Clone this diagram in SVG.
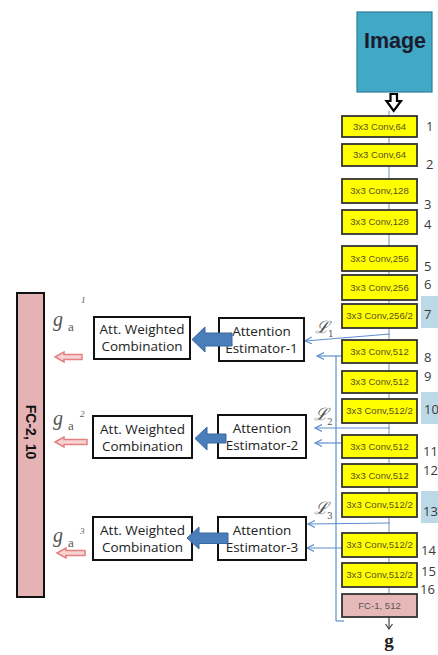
<svg xmlns="http://www.w3.org/2000/svg" width="438" height="655" viewBox="0 0 438 655">
<style>
.conv{fill:#FFFF00;stroke:#333;stroke-width:1.8}
.ct{font-family:"Liberation Sans",Arial,sans-serif;font-size:9.6px;fill:#5a5020;text-anchor:middle}
.num{font-family:"Open Sans","Liberation Sans",sans-serif;font-size:13px;fill:#3a3a3a}
.nbg{fill:#BCD9E8}
.box{fill:#fff;stroke:#111;stroke-width:2}
.bt{font-family:"Open Sans","Liberation Sans",sans-serif;font-size:13.5px;fill:#222;text-anchor:middle}
.bl{stroke:#5E8FCB;stroke-width:1.2;fill:none}
.fat{fill:#4A7EBB;stroke:#3A67A0;stroke-width:1}
.pink{fill:#F7D3D3;stroke:#E58080;stroke-width:1.5}
.lab{font-family:"DejaVu Serif","Liberation Serif",serif;fill:#555}
.ga{font-family:"Liberation Serif",serif;font-style:italic;fill:#555}
.gs{font-family:"Liberation Serif",serif;fill:#555}
.bold-sans{font-family:"Liberation Sans",Arial,sans-serif;font-weight:bold}
</style>
<defs>
<marker id="oh" markerWidth="10" markerHeight="10" refX="7" refY="4" orient="auto" markerUnits="userSpaceOnUse">
<path d="M0,0.5 L7,4 L0,7.5" fill="none" stroke="#5E8FCB" stroke-width="1.2"/>
</marker>
<marker id="dh" markerWidth="10" markerHeight="10" refX="4" refY="8" orient="0" markerUnits="userSpaceOnUse">
<path d="M0.5,3 L4,8 L7.5,3" fill="none" stroke="#444" stroke-width="1.2"/>
</marker>
</defs>

<g id="connectors">
<line x1="389" y1="111" x2="389" y2="594" stroke="#8AA4BE" stroke-width="1.2"/>
<line x1="389" y1="617" x2="389" y2="629" stroke="#444" stroke-width="1.2" marker-end="url(#dh)"/>
<line x1="336" y1="356" x2="336" y2="621" class="bl"/>
<line x1="336" y1="621" x2="344" y2="621" class="bl"/>
<line x1="390" y1="334" x2="305" y2="341" class="bl" marker-end="url(#oh)"/>
<line x1="342" y1="356" x2="317" y2="356" class="bl" marker-end="url(#oh)"/>
<line x1="390" y1="428" x2="315" y2="428" class="bl" marker-end="url(#oh)"/>
<line x1="342" y1="443" x2="315" y2="443" class="bl" marker-end="url(#oh)"/>
<line x1="390" y1="523" x2="308" y2="524" class="bl" marker-end="url(#oh)"/>
<line x1="342" y1="548" x2="307" y2="548" class="bl" marker-end="url(#oh)"/>
</g>

<g id="image">
<rect x="357" y="12" width="75" height="80" fill="#41A8C5" stroke="#2C7F96" stroke-width="1.2"/>
<text class="bold-sans" x="395" y="48" font-size="21.5" fill="#1b1b30" text-anchor="middle">Image</text>
<polygon points="390.5,94 397,94 397,101 401,101 393.7,111 386.5,101 390.5,101" fill="#fff" stroke="#000" stroke-width="2.2"/>
</g>

<g id="num-bg">
<rect class="nbg" x="421" y="296" width="17" height="32"/>
<rect class="nbg" x="421" y="392" width="17" height="32"/>
<rect class="nbg" x="421" y="491" width="17" height="32"/>
</g>

<g id="conv1"><rect class="conv" x="342" y="116" width="75" height="21"/><text class="ct" x="379.5" y="130">3x3 Conv,64</text><text class="num" x="426" y="131">1</text></g>
<g id="conv2"><rect class="conv" x="342" y="144" width="75" height="22"/><text class="ct" x="379.5" y="158">3x3 Conv,64</text><text class="num" x="426" y="169">2</text></g>
<g id="conv3"><rect class="conv" x="342" y="179" width="75" height="24"/><text class="ct" x="379.5" y="194">3x3 Conv,128</text><text class="num" x="424" y="209">3</text></g>
<g id="conv4"><rect class="conv" x="342" y="210" width="75" height="24"/><text class="ct" x="379.5" y="225">3x3 Conv,128</text><text class="num" x="424" y="229">4</text></g>
<g id="conv5"><rect class="conv" x="342" y="246" width="75" height="25"/><text class="ct" x="379.5" y="262">3x3 Conv,256</text><text class="num" x="424" y="271">5</text></g>
<g id="conv6"><rect class="conv" x="342" y="275" width="75" height="25"/><text class="ct" x="379.5" y="291">3x3 Conv,256</text><text class="num" x="424" y="289">6</text></g>
<g id="conv7"><rect class="conv" x="342" y="304" width="75" height="24"/><text class="ct" x="379.5" y="319">3x3 Conv,256/2</text><text class="num" x="424" y="319">7</text></g>
<g id="conv8"><rect class="conv" x="342" y="340" width="75" height="23"/><text class="ct" x="379.5" y="355">3x3 Conv,512</text><text class="num" x="424" y="362">8</text></g>
<g id="conv9"><rect class="conv" x="342" y="371" width="75" height="22"/><text class="ct" x="379.5" y="385">3x3 Conv,512</text><text class="num" x="424" y="381">9</text></g>
<g id="conv10"><rect class="conv" x="342" y="399" width="75" height="24"/><text class="ct" x="379.5" y="414">3x3 Conv,512/2</text><text class="num" x="424" y="414">10</text></g>
<g id="conv11"><rect class="conv" x="342" y="435" width="75" height="23"/><text class="ct" x="379.5" y="450">3x3 Conv,512</text><text class="num" x="423" y="456">11</text></g>
<g id="conv12"><rect class="conv" x="342" y="464" width="75" height="23"/><text class="ct" x="379.5" y="479">3x3 Conv,512</text><text class="num" x="423" y="475">12</text></g>
<g id="conv13"><rect class="conv" x="342" y="493" width="75" height="24"/><text class="ct" x="379.5" y="508">3x3 Conv,512/2</text><text class="num" x="423" y="516">13</text></g>
<g id="conv14"><rect class="conv" x="342" y="533" width="75" height="24"/><text class="ct" x="379.5" y="548">3x3 Conv,512/2</text><text class="num" x="421" y="555">14</text></g>
<g id="conv15"><rect class="conv" x="342" y="563" width="75" height="24"/><text class="ct" x="379.5" y="578">3x3 Conv,512/2</text><text class="num" x="421" y="576">15</text></g>
<g id="label16"><text class="num" x="420" y="594">16</text></g>
<g id="fc1"><rect x="342" y="594" width="75" height="23" fill="#E6B9B8" stroke="#333" stroke-width="1.8"/><text class="ct" x="379.5" y="609" style="fill:#555">FC-1, 512</text></g>
<g id="g-out"><text class="gs" x="389" y="647" font-weight="bold" font-size="19" style="fill:#222" text-anchor="middle">g</text></g>

<g id="L1"><text class="lab" x="315" y="333" font-size="17" font-style="italic">ℒ</text><text class="lab" x="328" y="337" font-size="9">1</text></g>
<g id="L2"><text class="lab" x="314" y="420" font-size="17" font-style="italic">ℒ</text><text class="lab" x="327" y="425" font-size="9">2</text></g>
<g id="L3"><text class="lab" x="314" y="514" font-size="17" font-style="italic">ℒ</text><text class="lab" x="327" y="519" font-size="9">3</text></g>

<g id="est1"><rect class="box" x="219" y="318" width="85" height="43"/><text class="bt" x="261.5" y="336">Attention</text><text class="bt" x="261.5" y="353">Estimator-1</text></g>
<g id="est2"><rect class="box" x="218" y="415" width="88" height="43"/><text class="bt" x="262" y="433">Attention</text><text class="bt" x="262" y="450">Estimator-2</text></g>
<g id="est3"><rect class="box" x="218" y="517" width="88" height="43"/><text class="bt" x="262" y="535">Attention</text><text class="bt" x="262" y="552">Estimator-3</text></g>

<g id="comb1"><rect class="box" x="94" y="317" width="96" height="42"/><text class="bt" x="142" y="334">Att. Weighted</text><text class="bt" x="142" y="351">Combination</text></g>
<g id="comb2"><rect class="box" x="93" y="416" width="99" height="42"/><text class="bt" x="142.5" y="434">Att. Weighted</text><text class="bt" x="142.5" y="451">Combination</text></g>
<g id="comb3"><rect class="box" x="93" y="517" width="99" height="43"/><text class="bt" x="142.5" y="535">Att. Weighted</text><text class="bt" x="142.5" y="552">Combination</text></g>

<g id="fat-arrows">
<polygon class="fat" points="192,339.5 205,327 205,333 232,333 232,346 205,346 205,352"/>
<polygon class="fat" points="195,438.5 207,427 207,434 226,434 226,443 207,443 207,450"/>
<polygon class="fat" points="187,538 199,527 199,533 228,533 228,543.5 199,543.5 199,549"/>
</g>

<g id="fc2"><rect x="17" y="293" width="27" height="304" fill="#E6B3B5" stroke="#111" stroke-width="2"/><text class="bold-sans" x="0" y="0" transform="translate(30.5,432) rotate(90)" font-size="14" fill="#111" text-anchor="middle" dominant-baseline="central">FC-2, 10</text></g>

<g id="ga1"><text class="ga" x="53" y="326" font-size="20">g</text><text class="gs" x="68" y="331" font-size="13">a</text><text class="ga" x="81" y="303" font-size="9">1</text></g>
<g id="ga2"><text class="ga" x="53" y="425" font-size="20">g</text><text class="gs" x="68" y="430" font-size="13">a</text><text class="ga" x="80" y="417" font-size="9">2</text></g>
<g id="ga3"><text class="ga" x="53" y="542" font-size="20">g</text><text class="gs" x="68" y="547" font-size="13">a</text><text class="ga" x="80" y="534" font-size="9">3</text></g>

<g id="pink-arrows">
<polygon class="pink" points="55,357 64,352 64,354.5 82,354.5 82,359.5 64,359.5 64,362"/>
<polygon class="pink" points="55,442 64,437 64,439.5 87,439.5 87,444.5 64,444.5 64,447"/>
<polygon class="pink" points="57,553 66,548 66,550.5 85,550.5 85,555.5 66,555.5 66,558"/>
</g>
</svg>
